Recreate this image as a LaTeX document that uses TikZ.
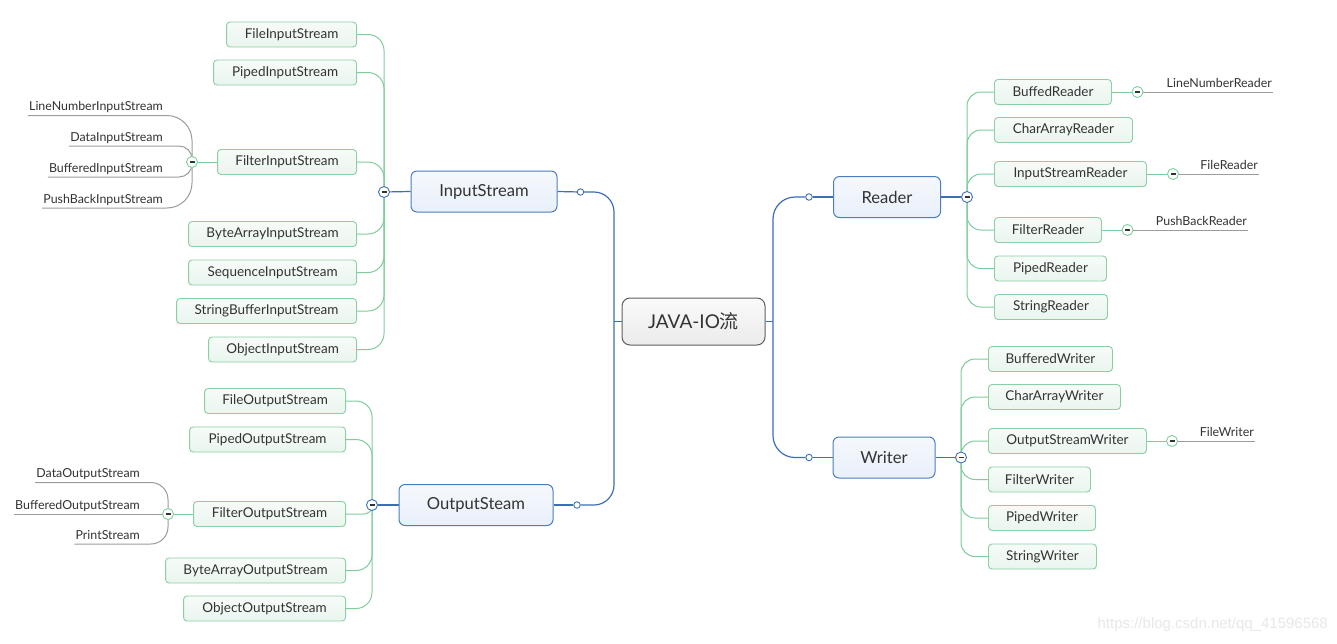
\documentclass[tikz,border=0pt]{standalone}
\usepackage{fontspec}
\setmainfont{Lato}
\newfontfamily\cjk{Noto Sans CJK SC}
\newfontfamily\wmfont{Liberation Sans}
\usetikzlibrary{backgrounds,calc}
\definecolor{txt}{HTML}{333333}
\definecolor{bline}{HTML}{3C6FB6}
\definecolor{bbox}{HTML}{4A7EC0}
\definecolor{bfilltop}{HTML}{F5F8FD}
\definecolor{bfillbot}{HTML}{E9F0FA}
\definecolor{gline}{HTML}{7FCC9C}
\definecolor{gbox}{HTML}{8AD0A5}
\definecolor{gfilltop}{HTML}{F6FBF8}
\definecolor{gfillbot}{HTML}{EAF5EE}
\definecolor{grline}{HTML}{9C9C9C}
\definecolor{rootb}{HTML}{5E5E5E}
\definecolor{rootfilltop}{HTML}{FAFAFA}
\definecolor{rootfillbot}{HTML}{EBEBEB}
\begin{document}
\begin{tikzpicture}[x=1pt,y=-1pt,
  leaf/.style={draw=gbox, top color=gfilltop, bottom color=gfillbot, rounded corners=3.5pt,
    line width=0.9pt, minimum height=25pt, inner sep=0pt, text=txt,
    font=\fontsize{13.5}{16}\selectfont},
  topic/.style={draw=bbox, top color=bfilltop, bottom color=bfillbot, rounded corners=6pt,
    line width=1pt, minimum height=41pt, inner sep=0pt, text=txt,
    font=\fontsize{16.6}{20}\selectfont},
  rootnode/.style={draw=rootb, top color=rootfilltop, bottom color=rootfillbot, rounded corners=8pt,
    line width=1pt, minimum width=143pt, minimum height=47pt, inner sep=0pt, text=txt,
    font=\fontsize{19}{23}\selectfont},
  lbl/.style={inner xsep=1pt, inner ysep=1.5pt, text depth=3pt, text=txt, anchor=south east,
    font=\fontsize{12.4}{15}\selectfont},
  coll/.style={circle, fill=white, line width=0.9pt, minimum size=11pt, inner sep=0pt, text=txt},
  collb/.style={coll, draw=bline},
  collg/.style={coll, draw=gline},
  hdot/.style={circle, draw=bline, fill=white, line width=0.9pt, minimum size=6.5pt, inner sep=0pt},
  bcon/.style={draw=bline, line width=1.2pt},
  gcon/.style={draw=gline, line width=1pt},
  grcon/.style={draw=grline, line width=1pt}]
\useasboundingbox (0,0) rectangle (1337,643);

% root and main topics
\node[rootnode] (java) at (693.5,321.5) {JAVA-IO{\cjk 流}};
\node[topic, minimum width=146pt] (is) at (484,191.5) {InputStream};
\node[topic, minimum width=154pt] (os) at (476,505) {OutputSteam};
\node[topic, minimum width=107pt] (rd) at (887,197) {Reader};
\node[topic, minimum width=102pt] (wr) at (884,457.5) {Writer};
\coordinate (jl) at (614,321.5);
\coordinate (jr) at (773,321.5);

% hollow dots
\node[hdot] (dis) at (580.5,192) {};
\node[hdot] (dos) at (577,505) {};
\node[hdot] (drd) at (809,197) {};
\node[hdot] (dwr) at (809,457.5) {};

% collapse circles (main)
\node[collb] (cis) at (384,192) {\rule{5pt}{1.4pt}};
\node[collb] (cos) at (372,505) {\rule{5pt}{1.4pt}};
\node[collb] (crd) at (967,197) {\rule{5pt}{1.4pt}};
\node[collb] (cwr) at (961,457.5) {\rule{5pt}{1.4pt}};

% InputStream leaves
\node[leaf, anchor=east, minimum width=130pt] (fis) at (357,34.5) {FileInputStream};
\node[leaf, anchor=east, minimum width=143pt] (pis) at (357,72.5) {PipedInputStream};
\node[leaf, anchor=east, minimum width=139pt] (filis) at (357,162) {FilterInputStream};
\node[leaf, anchor=east, minimum width=168pt] (bais) at (357,234) {ByteArrayInputStream};
\node[leaf, anchor=east, minimum width=168pt] (seqis) at (357,272.5) {SequenceInputStream};
\node[leaf, anchor=east, minimum width=180pt] (sbis) at (357,311) {StringBufferInputStream};
\node[leaf, anchor=east, minimum width=148pt] (obis) at (357,349.5) {ObjectInputStream};

% OutputSteam leaves
\node[leaf, anchor=east, minimum width=141pt] (fos) at (346,401) {FileOutputStream};
\node[leaf, anchor=east, minimum width=156pt] (pos) at (346,439.5) {PipedOutputStream};
\node[leaf, anchor=east, minimum width=152pt] (filos) at (346,514) {FilterOutputStream};
\node[leaf, anchor=east, minimum width=180pt] (baos) at (346,570.5) {ByteArrayOutputStream};
\node[leaf, anchor=east, minimum width=162pt] (obos) at (346,608.5) {ObjectOutputStream};

% Reader leaves
\node[leaf, anchor=west, minimum width=117pt] (brd) at (994,92) {BuffedReader};
\node[leaf, anchor=west, minimum width=138pt] (card) at (994,130) {CharArrayReader};
\node[leaf, anchor=west, minimum width=152pt] (isr) at (994,174) {InputStreamReader};
\node[leaf, anchor=west, minimum width=107pt] (frd) at (994,230) {FilterReader};
\node[leaf, anchor=west, minimum width=112pt] (prd) at (994,268.5) {PipedReader};
\node[leaf, anchor=west, minimum width=113pt] (srd) at (994,307) {StringReader};

% Writer leaves
\node[leaf, anchor=west, minimum width=124pt] (bwr) at (988,359) {BufferedWriter};
\node[leaf, anchor=west, minimum width=132pt] (cawr) at (988,397) {CharArrayWriter};
\node[leaf, anchor=west, minimum width=158pt] (osw) at (988,441) {OutputStreamWriter};
\node[leaf, anchor=west, minimum width=102pt] (fwr) at (988,479.5) {FilterWriter};
\node[leaf, anchor=west, minimum width=107pt] (pwr) at (988,518) {PipedWriter};
\node[leaf, anchor=west, minimum width=108pt] (swr) at (988,556.5) {StringWriter};

% second-level collapse circles
\node[collg] (cfis) at (192,162) {\rule{5pt}{1.4pt}};
\node[collg] (cfos) at (168,514) {\rule{5pt}{1.4pt}};
\node[collg] (cbrd) at (1137.5,92) {\rule{5pt}{1.4pt}};
\node[collg] (cisr) at (1173,174) {\rule{5pt}{1.4pt}};
\node[collg] (cfrd) at (1127.5,230) {\rule{5pt}{1.4pt}};
\node[collg] (cosw) at (1172,441) {\rule{5pt}{1.4pt}};

% underlined labels
\node[lbl] (lnis) at (164,115.5) {LineNumberInputStream};
\node[lbl] (dais) at (164,146) {DataInputStream};
\node[lbl] (bfis) at (164,177) {BufferedInputStream};
\node[lbl] (pbis) at (164,208) {PushBackInputStream};
\node[lbl] (daos) at (141,482.5) {DataOutputStream};
\node[lbl] (bfos) at (141,514) {BufferedOutputStream};
\node[lbl] (prs) at (141,544) {PrintStream};
\node[lbl] (lnr) at (1273,92) {LineNumberReader};
\node[lbl] (flr) at (1259,174) {FileReader};
\node[lbl] (pbr) at (1248,230) {PushBackReader};
\node[lbl] (flw) at (1255,441) {FileWriter};

% watermark
\node[anchor=east, text=black!9, inner sep=0pt, font=\wmfont\fontsize{15}{18}\selectfont] (wm) at (1328,625) {https://blog.csdn.net/qq\_41596568};

\begin{scope}[on background layer]
\fill[white] (0,0) rectangle (1337,643);
% blue trunk
\draw[bcon] (java.west) -- (jl);
\draw[bcon, rounded corners=20pt] (jl) |- (dis);
\draw[bcon, rounded corners=20pt] (jl) |- (dos);
\draw[bcon] (dis) -- (is.east);
\draw[bcon] (dos) -- (os.east);
\draw[bcon] (java.east) -- (jr);
\draw[bcon, rounded corners=22pt] (jr) |- (drd);
\draw[bcon, rounded corners=22pt] (jr) |- (dwr);
\draw[bcon] (drd) -- (rd.west);
\draw[bcon] (dwr) -- (wr.west);
\draw[bcon] (is.west) -- (cis);
\draw[bcon] (os.west) -- (cos);
\draw[bcon] (rd.east) -- (crd);
\draw[bcon] (wr.east) -- (cwr);
% green branches
\foreach \n in {fis,pis,filis,bais,seqis,sbis,obis}
  \draw[gcon, rounded corners=16pt] (cis) |- (\n.east);
\foreach \n in {fos,pos,baos,obos}
  \draw[gcon, rounded corners=16pt] (cos) |- (\n.east);
\draw[gcon, rounded corners=8pt] (cos) |- (filos.east);
\foreach \n in {brd,card,isr,frd,prd,srd}
  \draw[gcon, rounded corners=14pt] (crd) |- (\n.west);
\foreach \n in {bwr,cawr,osw,fwr,pwr,swr}
  \draw[gcon, rounded corners=14pt] (cwr) |- (\n.west);
\draw[gcon] (filis.west) -- (cfis);
\draw[gcon] (filos.west) -- (cfos);
\draw[gcon] (brd.east) -- (cbrd);
\draw[gcon] (isr.east) -- (cisr);
\draw[gcon] (frd.east) -- (cfrd);
\draw[gcon] (osw.east) -- (cosw);
% grey label connectors
\draw[grcon, rounded corners=25pt] (lnis.south west) -| (cfis);
\draw[grcon, rounded corners=13pt] (dais.south west) -| (cfis);
\draw[grcon, rounded corners=13pt] (bfis.south west) -| (cfis);
\draw[grcon, rounded corners=25pt] (pbis.south west) -| (cfis);
\draw[grcon, rounded corners=17pt] (daos.south west) -| (cfos);
\draw[grcon] (bfos.south west) -- (cfos);
\draw[grcon, rounded corners=17pt] (prs.south west) -| (cfos);
\draw[grcon] (cbrd) -- (lnr.south east);
\draw[grcon] (cisr) -- (flr.south east);
\draw[grcon] (cfrd) -- (pbr.south east);
\draw[grcon] (cosw) -- (flw.south east);
\end{scope}
\end{tikzpicture}
\end{document}
